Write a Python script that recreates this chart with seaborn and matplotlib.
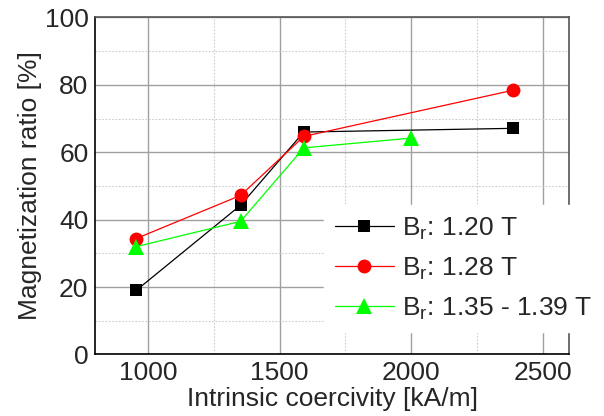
import matplotlib
matplotlib.use("Agg")
import matplotlib.pyplot as plt
import seaborn as sns
import pandas as pd
from matplotlib.ticker import MultipleLocator

# Data
series_labels = [r"B$_\mathregular{r}$: 1.20 T", r"B$_\mathregular{r}$: 1.28 T", r"B$_\mathregular{r}$: 1.35 - 1.39 T"]
x_120 = [955, 1352, 1592, 2387]
y_120 = [19.0, 44.3, 66.0, 67.1]
x_128 = [955, 1352, 1592, 2387]
y_128 = [34.4, 47.2, 64.7, 78.4]
x_135 = [955, 1352, 1592, 2000]
y_135 = [32.0, 39.5, 61.3, 64.2]
x_ticks = [1000, 1500, 2000, 2500]
y_ticks = [0, 20, 40, 60, 80, 100]

sns.set_theme(style="white")
plt.rcParams["font.family"] = ["Liberation Sans", "DejaVu Sans"]
plt.rcParams["mathtext.fontset"] = "custom"
plt.rcParams["mathtext.rm"] = "Liberation Sans"
plt.rcParams["mathtext.it"] = "Liberation Sans"

df = pd.concat([
    pd.DataFrame({"x": x_120, "y": y_120, "s": series_labels[0]}),
    pd.DataFrame({"x": x_128, "y": y_128, "s": series_labels[1]}),
    pd.DataFrame({"x": x_135, "y": y_135, "s": series_labels[2]}),
])

fig = plt.figure(figsize=(6.04, 4.16), dpi=100)
ax = fig.add_axes([0.158, 0.148, 0.784, 0.81])

colors = {series_labels[0]: "#000000", series_labels[1]: "#ff0000", series_labels[2]: "#00ff00"}
markers = {series_labels[0]: "s", series_labels[1]: "o", series_labels[2]: "^"}
sizes = {series_labels[0]: 9, series_labels[1]: 10, series_labels[2]: 11}

for lab in series_labels:
    sub = df[df["s"] == lab]
    sns.lineplot(data=sub, x="x", y="y", ax=ax, color=colors[lab], marker=markers[lab],
                 markersize=sizes[lab], markeredgewidth=0, linewidth=0.9, label=lab,
                 sort=False, zorder=3)

ax.set_xlim(800, 2600)
ax.set_ylim(0, 100)
ax.set_xticks(x_ticks)
ax.set_yticks(y_ticks)
ax.xaxis.set_minor_locator(MultipleLocator(250))
ax.yaxis.set_minor_locator(MultipleLocator(10))
ax.grid(True, which="major", color="#a0a0a0", linewidth=1.0, linestyle="-")
ax.grid(True, which="minor", color="#cccccc", linewidth=0.8, linestyle=(0, (1.5, 1.5)))
ax.set_axisbelow(True)

ax.tick_params(axis="both", which="major", direction="in", length=6, width=1,
               labelsize=19, color="#000000", pad=5)
ax.tick_params(axis="both", which="minor", direction="in", length=4, width=0.8, color="#000000")
ax.tick_params(top=False, right=False, which="both")

ax.set_xlabel("Intrinsic coercivity [kA/m]", fontsize=19, labelpad=1)
ax.set_ylabel("Magnetization ratio [%]", fontsize=19, labelpad=2)

for side in ["left", "bottom"]:
    ax.spines[side].set_color("#000000")
    ax.spines[side].set_linewidth(1.2)
for side in ["top", "right"]:
    ax.spines[side].set_color("#555555")
    ax.spines[side].set_linewidth(1.2)

leg = ax.legend(loc="upper left", bbox_to_anchor=(324 / 604, 1 - 205 / 416),
                bbox_transform=fig.transFigure, fontsize=19, frameon=True,
                fancybox=False, framealpha=1, edgecolor="white", facecolor="white",
                handlelength=2.25, handletextpad=0.3, labelspacing=0.52,
                borderpad=0.4, borderaxespad=0)
leg.set_zorder(5)

fig.savefig("out.png", dpi=100)
